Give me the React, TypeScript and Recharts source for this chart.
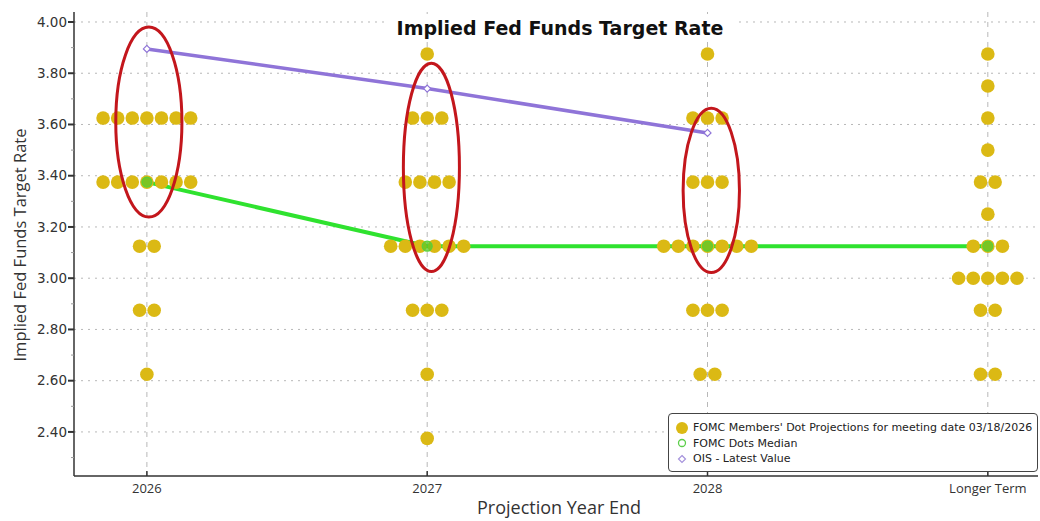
import React from 'react';
import { ComposedChart, Scatter, XAxis, YAxis, CartesianGrid, ReferenceArea } from 'recharts';

// ---- data ----
const categories = ['2026', '2027', '2028', 'Longer Term'];

// dot projections: rates and number of participants at each rate, per category
const rates2026 = [3.625, 3.375, 3.125, 2.875, 2.625];
const counts2026 = [7, 7, 2, 2, 1];
const rates2027 = [3.875, 3.625, 3.375, 3.125, 2.875, 2.625, 2.375];
const counts2027 = [1, 3, 4, 6, 3, 1, 1];
const rates2028 = [3.875, 3.625, 3.375, 3.125, 2.875, 2.625];
const counts2028 = [1, 3, 3, 7, 3, 2];
const ratesLonger = [3.875, 3.75, 3.625, 3.5, 3.375, 3.25, 3.125, 3.0, 2.875, 2.625];
const countsLonger = [1, 1, 1, 1, 2, 1, 3, 5, 2, 2];

const medianValues = [3.375, 3.125, 3.125, 3.125];
const oisValues = [3.895, 3.74, 3.567];

const yMajorTicks = [2.4, 2.6, 2.8, 3.0, 3.2, 3.4, 3.6, 3.8, 4.0];
const yMinorTicks = [2.3, 2.5, 2.7, 2.9, 3.1, 3.3, 3.5, 3.7, 3.9];

// red annotation ellipses (extent in data units)
const ellipseX1 = [-0.111, 0.915, 1.913];
const ellipseX2 = [0.125, 1.115, 2.114];
const ellipseY1 = [3.239, 3.026, 3.022];
const ellipseY2 = [3.98, 3.839, 3.663];

// ---- derived tables ----
const perCat = [
  [rates2026, counts2026],
  [rates2027, counts2027],
  [rates2028, counts2028],
  [ratesLonger, countsLonger],
];
const dotRows = perCat.flatMap(([rates, counts], ci) =>
  rates.map((r, i) => ({ x: ci, y: r, count: counts[i] }))
);
const medianData = medianValues.map((v, i) => ({ x: i, y: v }));
const oisData = oisValues.map((v, i) => ({ x: i, y: v }));
const yTicks = [...yMajorTicks, ...yMinorTicks].sort((a, b) => a - b);

const DOT_COLOR = '#dbb914';
const GREEN = '#2fe22f';
const PURPLE = '#8f74d8';
const RED = '#c3161c';
const AXIS_FONT = '"Open Sans", "DejaVu Sans", sans-serif';

const DotRow = (props: any) => {
  const { cx, cy, payload } = props;
  if (cx == null || cy == null) return <g />;
  const n = payload.count;
  const gap = 14.6;
  return (
    <g>
      {Array.from({ length: n }, (_, i) => (
        <circle key={i} cx={cx + (i - (n - 1) / 2) * gap} cy={cy} r={6.8} fill={DOT_COLOR} />
      ))}
    </g>
  );
};

const MedianMark = (props: any) => {
  const { cx, cy } = props;
  if (cx == null) return <g />;
  return <circle cx={cx} cy={cy} r={5} fill="rgba(90,200,40,0.75)" stroke="#58d03a" strokeWidth={1.2} />;
};

const NoMark = () => <g />;

const DiamondMark = (props: any) => {
  const { cx, cy } = props;
  if (cx == null) return <g />;
  const s = 3.5;
  return (
    <path
      d={`M${cx},${cy - s} L${cx + s},${cy} L${cx},${cy + s} L${cx - s},${cy} Z`}
      fill="#fff"
      stroke={PURPLE}
      strokeWidth={1.2}
    />
  );
};

const YTick = (props: any) => {
  const { x, y, payload } = props;
  const v = payload.value;
  const major = yMajorTicks.some((t) => Math.abs(t - v) < 1e-6);
  if (!major) {
    return <line x1={x - 3} x2={x} y1={y} y2={y} stroke="#999" strokeWidth={1} />;
  }
  return (
    <g>
      <line x1={x - 6} x2={x} y1={y} y2={y} stroke="#333" strokeWidth={2} />
      <text
        x={x - 7}
        y={y}
        dy="0.35em"
        textAnchor="end"
        fontSize={13.5}
        fontFamily='"DejaVu Sans", sans-serif'
        fill="#333"
      >
        {v.toFixed(2)}
      </text>
    </g>
  );
};

const XTick = (props: any) => {
  const { x, y, payload } = props;
  return (
    <g>
      <line x1={x} x2={x} y1={y} y2={y - 5} stroke="#333" strokeWidth={1.5} />
      <text x={x} y={y + 12} dy="0.35em" textAnchor="middle" fontSize={13} fontFamily={AXIS_FONT} fill="#333">
        {categories[payload.value]}
      </text>
    </g>
  );
};

const EllipseShape = (props: any) => {
  const { x, y, width, height } = props;
  if (x == null) return <g />;
  return (
    <ellipse
      cx={x + width / 2}
      cy={y + height / 2}
      rx={Math.abs(width) / 2}
      ry={Math.abs(height) / 2}
      fill="none"
      stroke={RED}
      strokeWidth={3}
    />
  );
};

const yLabel = () => {
  const cx = 20;
  const cy = 245;
  return (
    <text
      x={cx}
      y={cy}
      transform={`rotate(-90 ${cx} ${cy})`}
      textAnchor="middle"
      dy="0.35em"
      fontSize={16.5}
      fontFamily={AXIS_FONT}
      fill="#333"
    >
      Implied Fed Funds Target Rate
    </text>
  );
};

const xLabel = () => {
  return (
    <text x={559} y={508} dy="0.35em" textAnchor="middle" fontSize={18} fontFamily={AXIS_FONT} fill="#333">
      Projection Year End
    </text>
  );
};

const legendItems = [
  { label: "FOMC Members' Dot Projections for meeting date 03/18/2026", kind: 'dot' },
  { label: 'FOMC Dots Median', kind: 'circle' },
  { label: 'OIS - Latest Value', kind: 'diamond' },
];

export default function App() {
  return (
    <div style={{ position: 'absolute', left: 0, top: 0, width: 1040, height: 521, background: '#fff' }}>
      <ComposedChart width={1040} height={521} margin={{ top: 12, right: 2, bottom: 0, left: 0 }}>
        <CartesianGrid
          vertical={false}
          horizontalValues={yMajorTicks}
          stroke="#b8b8b8"
          strokeDasharray="2 5"
        />
        <CartesianGrid
          horizontal={false}
          verticalValues={[0, 1, 2, 3]}
          stroke="#b8b8b8"
          strokeDasharray="5 5"
        />
        <XAxis
          type="number"
          dataKey="x"
          domain={[-0.26, 3.179]}
          ticks={[0, 1, 2, 3]}
          interval={0}
          allowDataOverflow
          height={45}
          tickLine={false}
          tickSize={0}
          tickMargin={0}
          tick={<XTick />}
          axisLine={{ stroke: '#333', strokeWidth: 1.5 }}
          label={xLabel}
        />
        <YAxis
          type="number"
          dataKey="y"
          domain={[2.228, 4.039]}
          ticks={yTicks}
          interval={0}
          allowDataOverflow
          width={74}
          tickLine={false}
          tickSize={0}
          tickMargin={0}
          tick={<YTick />}
          axisLine={{ stroke: '#333', strokeWidth: 1.5 }}
          label={yLabel}
        />
        <Scatter
          data={medianData}
          line={{ stroke: GREEN, strokeWidth: 4 }}
          lineType="joint"
          shape={<NoMark />}
          isAnimationActive={false}
        />
        <Scatter data={dotRows} shape={<DotRow />} isAnimationActive={false} />
        <Scatter data={medianData} shape={<MedianMark />} isAnimationActive={false} />
        <Scatter
          data={oisData}
          line={{ stroke: PURPLE, strokeWidth: 3.5 }}
          lineType="joint"
          shape={<DiamondMark />}
          isAnimationActive={false}
        />
        {ellipseX1.map((x1, i) => (
          <ReferenceArea
            key={i}
            x1={x1}
            x2={ellipseX2[i]}
            y1={ellipseY1[i]}
            y2={ellipseY2[i]}
            ifOverflow="visible"
            shape={<EllipseShape />}
            zIndex={2000}
          />
        ))}
      </ComposedChart>
      <div
        style={{
          position: 'absolute',
          left: 385,
          top: 14,
          width: 350,
          textAlign: 'center',
          fontFamily: '"DejaVu Sans", sans-serif',
          fontWeight: 'bold',
          fontSize: 19,
          color: '#111',
          background: '#fff',
          lineHeight: '28px',
        }}
      >
        Implied Fed Funds Target Rate
      </div>
      <div
        style={{
          position: 'absolute',
          left: 668,
          top: 413,
          width: 370,
          height: 59,
          border: '1px solid #444',
          borderRadius: 4,
          background: '#fff',
          boxSizing: 'border-box',
          padding: '6px 0 0 6px',
          fontFamily: '"DejaVu Sans", sans-serif',
          fontSize: 11,
          color: '#222',
        }}
      >
        {legendItems.map((it) => (
          <div key={it.label} style={{ display: 'flex', alignItems: 'center', height: 15.5 }}>
            <svg width={16} height={14} style={{ flex: 'none' }}>
              {it.kind === 'dot' && <circle cx={7} cy={7} r={6} fill={DOT_COLOR} />}
              {it.kind === 'circle' && <circle cx={7} cy={7} r={3.5} fill="none" stroke="#5ccf4a" strokeWidth={1.3} />}
              {it.kind === 'diamond' && (
                <path d="M7,3.5 L10.5,7 L7,10.5 L3.5,7 Z" fill="none" stroke="#a592dc" strokeWidth={1.2} />
              )}
            </svg>
            <span style={{ marginLeft: 2, whiteSpace: 'nowrap' }}>{it.label}</span>
          </div>
        ))}
      </div>
    </div>
  );
}
